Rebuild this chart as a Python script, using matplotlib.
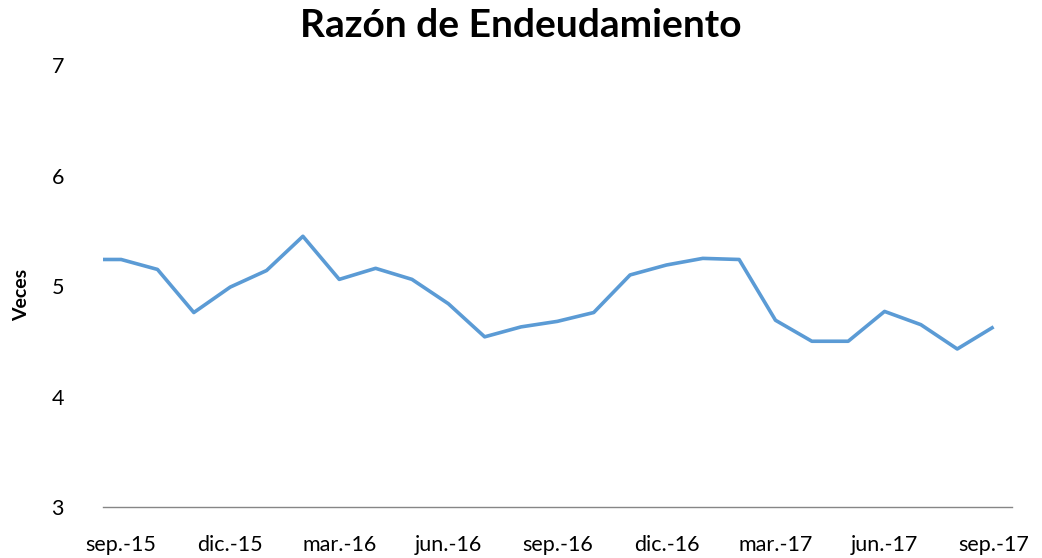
import matplotlib
matplotlib.use("Agg")
import matplotlib.pyplot as plt

# monthly values, ago.-15 .. sep.-17 (first point sits just outside the plot area)
months = ["ago.-15", "sep.-15", "oct.-15", "nov.-15", "dic.-15", "ene.-16", "feb.-16",
          "mar.-16", "abr.-16", "may.-16", "jun.-16", "jul.-16", "ago.-16", "sep.-16",
          "oct.-16", "nov.-16", "dic.-16", "ene.-17", "feb.-17", "mar.-17", "abr.-17",
          "may.-17", "jun.-17", "jul.-17", "ago.-17", "sep.-17"]
ratio = [5.24, 5.24, 5.15, 4.76, 4.99, 5.14, 5.45, 5.06, 5.16, 5.06, 4.84, 4.54, 4.63,
         4.68, 4.76, 5.10, 5.19, 5.25, 5.24, 4.69, 4.50, 4.50, 4.77, 4.65, 4.43, 4.63]
tick_labels = ["sep.-15", "dic.-15", "mar.-16", "jun.-16", "sep.-16",
               "dic.-16", "mar.-17", "jun.-17", "sep.-17"]
y_ticks = [3, 4, 5, 6, 7]

plt.rcParams["font.family"] = ["Lato", "DejaVu Sans"]

fig = plt.figure(figsize=(10.42, 5.58), dpi=100)
ax = fig.add_axes([0.0988, 0.0914, 0.8722, 0.7921])

x = list(range(-1, len(ratio) - 1))
ax.plot(x, ratio, color="#5B9BD5", linewidth=2.6, solid_capstyle="butt")

ax.set_xlim(-0.5, 24.5)
ax.set_ylim(3, 7)
ax.set_yticks(y_ticks)
ax.set_xticks([months.index(t) - 1 for t in tick_labels])
ax.set_xticklabels(tick_labels)

for side in ["top", "right", "left"]:
    ax.spines[side].set_visible(False)
ax.spines["bottom"].set_color("#868686")
ax.spines["bottom"].set_linewidth(1.0)
ax.tick_params(axis="both", length=0, labelsize=15.5, colors="black")
ax.tick_params(axis="y", pad=28)
ax.tick_params(axis="x", pad=20)

ax.set_ylabel("Veces", fontsize=14, fontweight="bold")
ax.yaxis.set_label_coords(-0.08, 0.48)
fig.suptitle("Razón de Endeudamiento", fontsize=28, fontweight="bold", y=0.985)

fig.savefig("out.png", dpi=100)
